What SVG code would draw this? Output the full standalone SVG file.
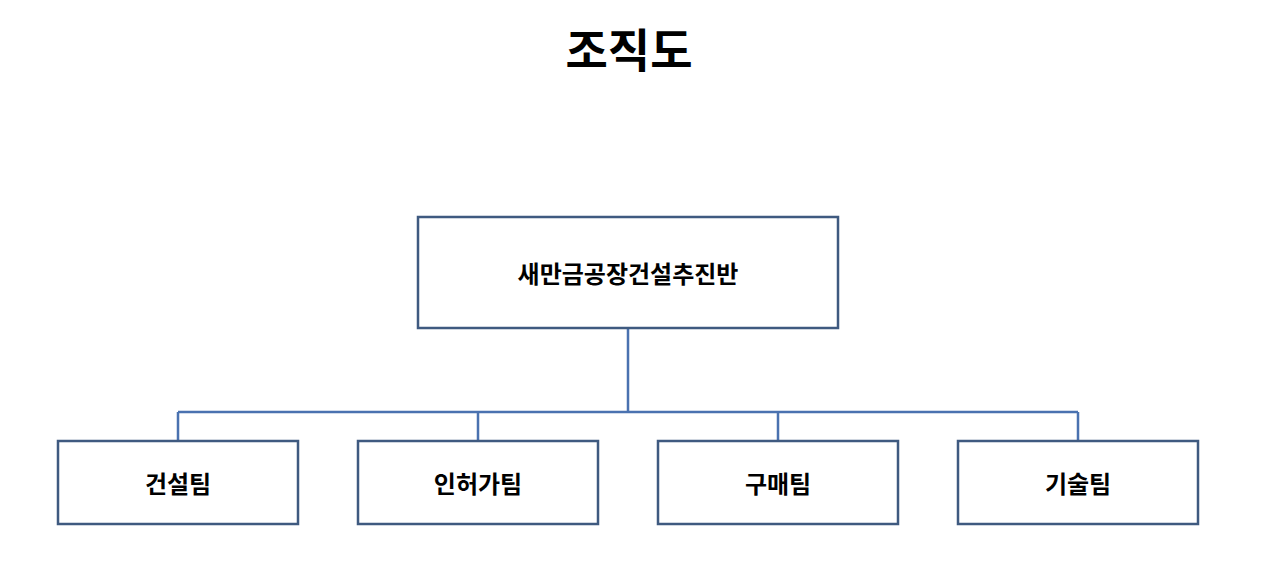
<svg xmlns="http://www.w3.org/2000/svg" width="1276" height="569" viewBox="0 0 1276 569">
<style>
text{font-family:"Noto Sans CJK KR","Noto Sans",sans-serif;font-weight:bold;fill:#000;text-anchor:middle;dominant-baseline:central}
.box{fill:#fff;stroke:#3F5A80;stroke-width:2.5}
.c{fill:none;stroke:#4A72B0;stroke-width:2.5}
</style>
<rect width="1276" height="569" fill="#fff"/>
<text x="629" y="47" font-size="46">조직도</text>
<g id="connectors">
<path class="c" d="M628 329V412M178 412H1078M178 412V441M478 412V441M778 412V441M1078 412V441"/>
</g>
<g id="n0"><rect class="box" x="418" y="217" width="420" height="111"/><text x="628" y="272" font-size="24">새만금공장건설추진반</text></g>
<g id="n1"><rect class="box" x="58" y="441" width="240" height="83"/><text x="178" y="482" font-size="24">건설팀</text></g>
<g id="n2"><rect class="box" x="358" y="441" width="240" height="83"/><text x="478" y="482" font-size="24">인허가팀</text></g>
<g id="n3"><rect class="box" x="658" y="441" width="240" height="83"/><text x="778" y="482" font-size="24">구매팀</text></g>
<g id="n4"><rect class="box" x="958" y="441" width="240" height="83"/><text x="1078" y="482" font-size="24">기술팀</text></g>
</svg>
